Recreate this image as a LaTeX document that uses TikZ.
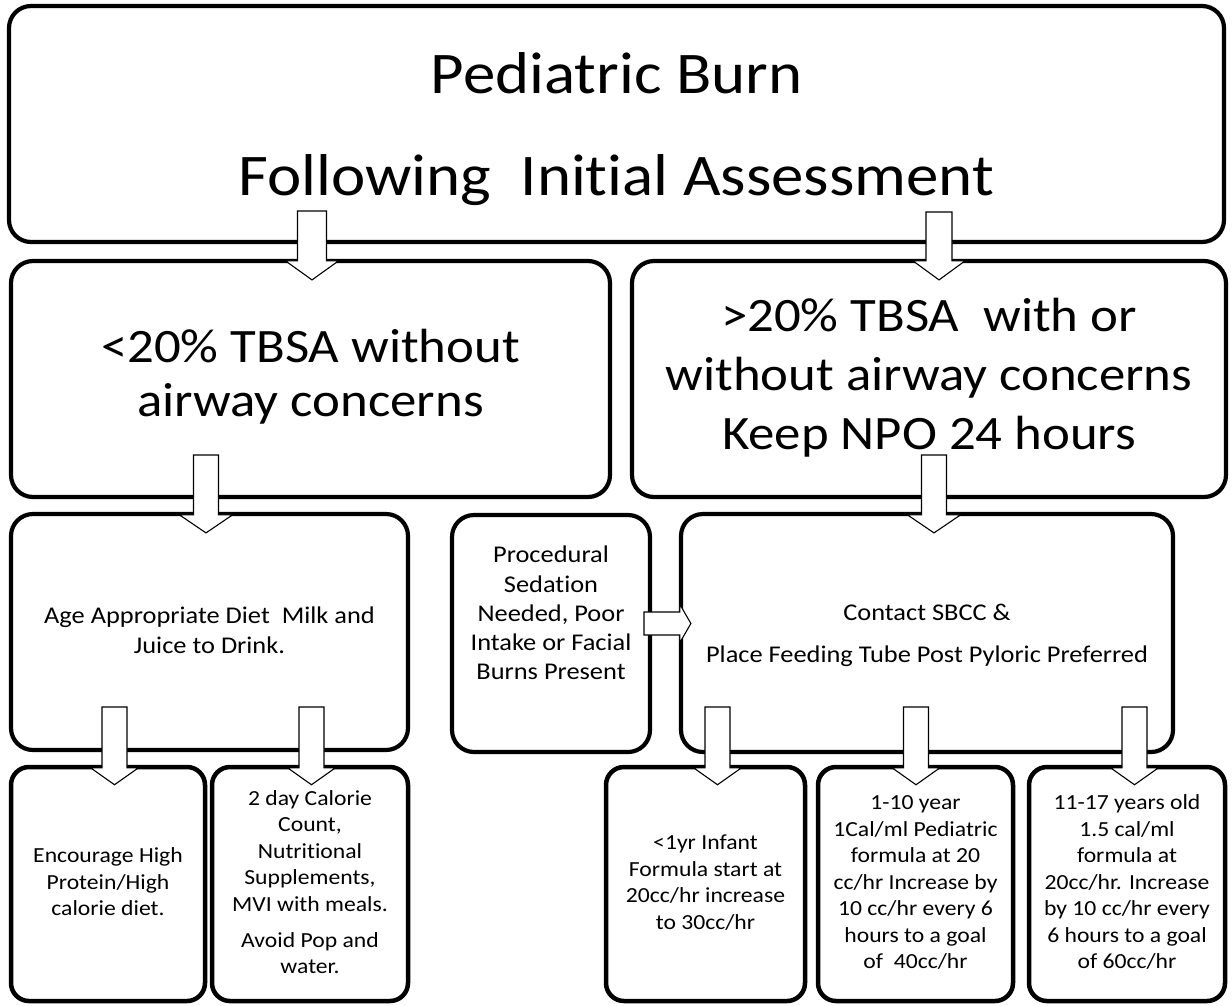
\documentclass[tikz,border=0pt]{standalone}
\usepackage{fontspec}
\setmainfont{Carlito}[FakeStretch=1.1, Ligatures=NoCommon]
\usetikzlibrary{calc}
\newcommand\blockdown[5]{%
  \draw[blockarrow] ($(#1)+(-#3,0)$) -- ($(#2)+(-#3,-#5)$) -- ($(#2)+(-#4,-#5)$) -- (#2)
    -- ($(#2)+(#4,-#5)$) -- ($(#2)+(#3,-#5)$) -- ($(#1)+(#3,0)$) -- cycle;}
\newcommand\blockright[5]{%
  \draw[blockarrow] ($(#1)+(0,-#3)$) -- ($(#2)+(-#5,-#3)$) -- ($(#2)+(-#5,-#4)$) -- (#2)
    -- ($(#2)+(-#5,#4)$) -- ($(#2)+(-#5,#3)$) -- ($(#1)+(0,#3)$) -- cycle;}
\tikzset{
  box/.style={draw, line width=4.2pt, rounded corners=22pt, inner sep=0pt, fill=white},
  smallbox/.style={box, rounded corners=18pt, line width=4.5pt},
  blockarrow/.style={draw, fill=white, line width=1.1pt, line join=miter},
  fsize/.style 2 args={font=\fontsize{#1}{#2}\selectfont}
}
\newcommand\lines[1]{\begin{tabular}{@{}c@{}}#1\end{tabular}}
\begin{document}
\begin{tikzpicture}[x=1pt,y=-1pt]
\useasboundingbox[fill=white] (0,0) rectangle (1232,1005);
% boxes
\node[box, minimum width=1215pt, minimum height=236pt, fsize={59}{102}] (top) at (616.5,124)
  {\lines{Pediatric Burn\\Following\ \ Initial Assessment}};
\node[box, minimum width=599pt, minimum height=236pt, fsize={48}{54}] (L2) at (310.5,379)
  {\lines{<20\% TBSA without\\airway concerns}};
\node[box, minimum width=594pt, minimum height=236pt, fsize={48}{59}] (R2) at (929,379)
  {\lines{>20\% TBSA\ \ with or\\without airway concerns\\Keep NPO 24 hours}};
\node[box, minimum width=397pt, minimum height=236pt, fsize={24}{30}] (L3) at (209.5,632)
  {\lines{Age Appropriate Diet\ \ Milk and\\Juice to Drink.}};
\node[box, minimum width=198pt, minimum height=237pt, fsize={24}{29.3}] (proc) at (551,633.5)
  {\lines{Procedural\\Sedation\\Needed, Poor\\Intake or Facial\\Burns Present\\[36pt]}};
\node[box, minimum width=492pt, minimum height=238pt, fsize={24}{42}] (sbcc) at (927,633)
  {\lines{Contact SBCC \&\\Place Feeding Tube Post Pyloric Preferred}};
\node[smallbox, minimum width=194pt, minimum height=234pt, fsize={21.5}{26.5}] (B1) at (108,884)
  {\lines{Encourage High\\Protein/High\\calorie diet.}};
\node[smallbox, minimum width=196pt, minimum height=234pt, fsize={21.5}{26.5}] (B2) at (310,884)
  {\lines{2 day Calorie\\Count,\\Nutritional\\Supplements,\\MVI with meals.\\[9.5pt]Avoid Pop and\\water.}};
\node[smallbox, minimum width=199pt, minimum height=234pt, fsize={21.5}{26.5}] (B3) at (705.5,884)
  {\lines{<1yr Infant\\Formula start at\\20cc/hr increase\\to 30cc/hr}};
\node[smallbox, minimum width=195pt, minimum height=234pt, fsize={21.5}{26.5}] (B4) at (915.5,884)
  {\lines{1-10 year\\1Cal/ml Pediatric\\formula at 20\\cc/hr Increase by\\10 cc/hr every 6\\hours to a goal\\of\ \ 40cc/hr}};
\node[smallbox, minimum width=196pt, minimum height=234pt, fsize={21.5}{26.5}] (B5) at (1127,884)
  {\lines{11-17 years old\\1.5 cal/ml\\formula at\\20cc/hr. Increase\\by 10 cc/hr every\\6 hours to a goal\\of 60cc/hr}};
% arrow end points
\coordinate (a1s) at (312,211);  \coordinate (a1e) at ($(a1s |- L2.north)+(0,21)$);
\coordinate (a2s) at (939,212);  \coordinate (a2e) at ($(a2s |- R2.north)+(0,21)$);
\coordinate (a3s) at (206,455);  \coordinate (a3e) at ($(a3s |- L3.north)+(0,21)$);
\coordinate (a4s) at (934,455);  \coordinate (a4e) at ($(a4s |- sbcc.north)+(0,21)$);
\coordinate (a5s) at (114.5,707); \coordinate (a5e) at ($(a5s |- B1.north)+(0,20)$);
\coordinate (a6s) at (311.5,707); \coordinate (a6e) at ($(a6s |- B2.north)+(0,20)$);
\coordinate (a7s) at (717.5,707); \coordinate (a7e) at ($(a7s |- B3.north)+(0,20)$);
\coordinate (a8s) at (916,707);  \coordinate (a8e) at ($(a8s |- B4.north)+(0,20)$);
\coordinate (a9s) at (1134.5,707); \coordinate (a9e) at ($(a9s |- B5.north)+(0,20)$);
\coordinate (a10s) at (644,623.5); \coordinate (a10e) at ($(a10s -| sbcc.west)+(12,0)$);
% block arrows
\blockdown{a1s}{a1e}{14.5}{26.5}{19}
\blockdown{a2s}{a2e}{13}{26}{19}
\blockdown{a3s}{a3e}{12.5}{26.5}{18}
\blockdown{a4s}{a4e}{12.5}{26.5}{18}
\blockdown{a5s}{a5e}{12.5}{24}{17}
\blockdown{a6s}{a6e}{12.5}{24}{17}
\blockdown{a7s}{a7e}{12.5}{24}{17}
\blockdown{a8s}{a8e}{12.5}{24}{17}
\blockdown{a9s}{a9e}{12.5}{24}{17}
\blockright{a10s}{a10e}{11.5}{19}{11}
\end{tikzpicture}
\end{document}
